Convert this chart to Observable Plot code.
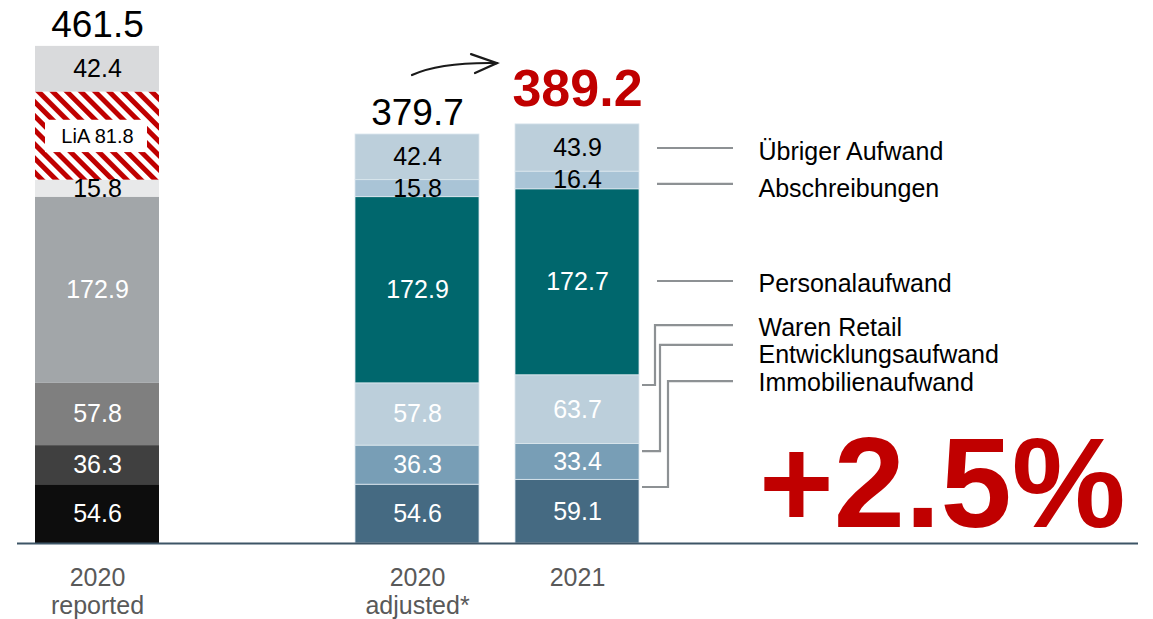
<!DOCTYPE html>
<html><head><meta charset="utf-8">
<script src="https://cdn.jsdelivr.net/npm/d3@7"></script>
<script src="https://cdn.jsdelivr.net/npm/@observablehq/plot@0.6"></script>
<style>
body{margin:0;background:#fff;}
#chart{width:1153px;height:619px;overflow:hidden;}
</style></head><body><div id="chart"></div>
<script>
// ---- data ----
const categories = ["2020\nreported", " ", "2020\nadjusted*", "2021"];
const segments = ["Immobilienaufwand", "Entwicklungsaufwand", "Waren Retail", "Personalaufwand", "Abschreibungen", "LiA", "Übriger Aufwand"];
const reported2020 = [54.6, 36.3, 57.8, 172.9, 15.8, 81.8, 42.4];
const adjusted2020 = [54.6, 36.3, 57.8, 172.9, 15.8, 0, 42.4];
const values2021  = [59.1, 33.4, 63.7, 172.7, 16.4, 0, 43.9];
const totals = [461.5, 379.7, 389.2];
const legendLabels = ["Übriger Aufwand", "Abschreibungen", "Personalaufwand", "Waren Retail", "Entwicklungsaufwand", "Immobilienaufwand"];
const changeLabel = "+2.5%";

// ---- styles ----
const greyFills = ["#0d0d0d", "#404040", "#7f7f7f", "#a2a6a9", "#e8e9ea", "url(#lia-hatch)", "#d9dadc"];
const greyText  = ["#ffffff", "#ffffff", "#ffffff", "#ffffff", "#000000", "#000000", "#000000"];
const blueFills = ["#456a82", "#789eb6", "#bccfdb", "#00676d", "#a9c4d6", "none", "#bccfdb"];
const blueText  = ["#ffffff", "#ffffff", "#ffffff", "#ffffff", "#000000", "#000000", "#000000"];

const rows = [];
[[categories[0], reported2020, greyFills, greyText, "none"],
 [categories[2], adjusted2020, blueFills, blueText, "#dce7ee"],
 [categories[3], values2021, blueFills, blueText, "#dce7ee"]].forEach(([cat, vals, fills, texts, edge]) => {
  vals.forEach((v, i) => {
    if (v > 0) rows.push({cat, seg: segments[i], value: v, fill: fills[i], tc: texts[i], edge,
      label: segments[i] === "LiA" ? "LiA " + v.toFixed(1) : v.toFixed(1),
      fs: segments[i] === "LiA" ? 20 : 25});
  });
});
const totalRows = [categories[0], categories[2], categories[3]].map((c, i) => ({cat: c, total: totals[i], label: totals[i].toFixed(1)}));

// annotation layout (chart units on the y scale)
const legendTextAt = [364.0, 329.6, 241.4, 199.8, 175.0, 149.0];
const legendLineAt = [366.8, 333.4, 243.3, 202.4, 183.9, 150.4];
const connectorAt = [146.7, 85.4, 52.0];

const font = "'Liberation Sans', Arial, Helvetica, sans-serif";

const plot = Plot.plot({
  width: 1153, height: 619,
  marginTop: 0, marginLeft: 0, marginRight: 0, marginBottom: 76,
  x: {type: "band", domain: categories, range: [35, 639], paddingInner: 0.225, paddingOuter: 0, label: null},
  y: {domain: [0, 461.5], range: [543, 46], axis: null},
  color: {type: "identity"},
  style: {fontFamily: font, background: "#ffffff", overflow: "visible"},
  marks: [
    Plot.barY(rows, {x: "cat", y: "value", fill: "fill", stroke: "edge", strokeWidth: 0.8}),
    Plot.barY([{cat: categories[0], y1: 363, y2: 393}], {x: "cat", y1: "y1", y2: "y2", fill: "#ffffff", insetLeft: 10, insetRight: 12}),
    Plot.text(rows, Plot.stackY({x: "cat", y: "value", text: "label", fill: "tc", fontSize: "fs", lineAnchor: "middle"})),
    Plot.ruleY([0], {stroke: "#3d5566", strokeWidth: 2, insetLeft: 17, insetRight: 15}),
    Plot.axisX({tickSize: 0, tickPadding: 23, fontSize: 25, fill: "#595959", lineHeight: 1.1, label: null}),
    Plot.text(totalRows.slice(0, 2), {x: "cat", y: "total", text: "label", dy: -21, fontSize: 37, fill: "#000000", lineAnchor: "middle"}),
    Plot.text(totalRows.slice(2), {x: "cat", y: "total", text: "label", dy: -35, fontSize: 52, fontWeight: "bold", fill: "#c00000", lineAnchor: "middle"}),
    Plot.text(legendLabels, {x: () => categories[3], y: legendTextAt, text: d => d, dx: 181, textAnchor: "start", fontSize: 25, fill: "#000000", lineAnchor: "middle"}),
    Plot.text([changeLabel], {frameAnchor: "top-left", dx: 1125, dy: 486, text: d => d, textAnchor: "end", fontSize: 128, fontWeight: "bold", fill: "#c00000", lineAnchor: "middle"})
  ]
});

// hatch pattern for LiA
const svg = d3.select(plot);
const defs = svg.insert("defs", ":first-child");
const pat = defs.append("pattern").attr("id", "lia-hatch").attr("patternUnits", "userSpaceOnUse")
  .attr("width", 10).attr("height", 10).attr("patternTransform", "rotate(-45)");
pat.append("rect").attr("width", 10).attr("height", 10).attr("fill", "#ffffff");
pat.append("rect").attr("width", 5).attr("height", 10).attr("fill", "#c00000");

// connectors and arrow
const xs = plot.scale("x"), ys = plot.scale("y");
const barEnd = xs.apply(categories[3]) + xs.bandwidth;
const g = svg.append("g").attr("fill", "none").attr("stroke", "#8d9194").attr("stroke-width", 2.2);
for (let i = 0; i < 3; i++) {
  g.append("path").attr("d", `M${barEnd + 18},${ys.apply(legendLineAt[i])}H${barEnd + 94}`);
}
const vx = [16, 21, 29];
for (let i = 0; i < 3; i++) {
  g.append("path").attr("d",
    `M${barEnd + 3},${ys.apply(connectorAt[i])}H${barEnd + vx[i]}V${ys.apply(legendLineAt[3 + i])}H${barEnd + 94}`);
}
const ax = xs.apply(categories[2]);
const ay = ys.apply(totals[1]);
const arrow = svg.append("g").attr("fill", "none").attr("stroke", "#1a1a1a").attr("stroke-width", 2.2).attr("stroke-linecap", "round");
arrow.append("path").attr("d", `M${ax + 57},${ay - 59} Q${ax + 85},${ay - 72} ${ax + 142},${ay - 71}`);
arrow.append("path").attr("d", `M${ax + 116},${ay - 80} L${ax + 142},${ay - 71} L${ax + 120},${ay - 61}`);

document.getElementById("chart").appendChild(plot);
</script></body></html>
